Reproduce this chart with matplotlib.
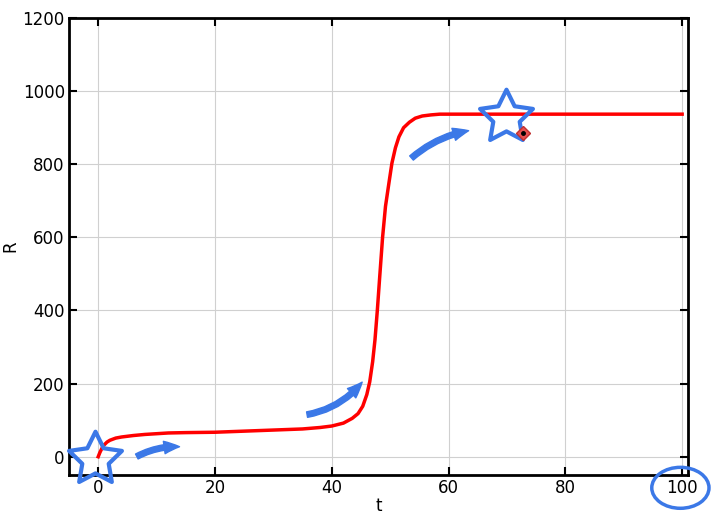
import numpy as np
import matplotlib.pyplot as plt
from matplotlib.patches import FancyArrowPatch, Ellipse
from matplotlib.path import Path

# values
t = [0, 0.3, 0.7, 1, 1.5, 2, 3, 4, 6, 8, 10, 12, 15, 20, 25, 30, 35, 38, 40, 42,
     43.5, 44.5, 45.3, 46, 46.5, 47, 47.4, 47.8, 48.2, 48.7, 49.2, 49.8, 50.3,
     50.9, 51.5, 52.3, 53.3, 54.3, 55.5, 57, 58.5, 60, 70, 80, 90, 100]
R = [0, 12, 25, 32, 40, 45, 51, 54, 58, 61, 63, 65, 66, 67, 70, 73, 76, 80, 84, 92,
     105, 118, 138, 170, 205, 260, 320, 400, 490, 600, 685, 750, 803,
     845, 875, 900, 915, 926, 932, 935, 937, 937, 937, 937, 937, 937]

# decorations
star_pts = [(-0.5, -5), (69.9, 928)]
arrows = [((6.2, -3), (14.4, 27), -0.15), ((35.3, 114), (45.5, 210), 0.2),
          ((53.3, 812), (63.9, 893), -0.15)]
marker_pt = (72.8, 885)
blue = '#3b78e7'

# star outline with slightly fatter arms than the default '*'
ang = np.pi / 2 + np.arange(10) * np.pi / 5
rad = np.where(np.arange(10) % 2 == 0, 1.0, 0.5)
star = Path(np.c_[rad * np.cos(ang), rad * np.sin(ang)].tolist() + [[0, 1]],
            [Path.MOVETO] + [Path.LINETO] * 9 + [Path.CLOSEPOLY])

fig = plt.figure(figsize=(7.21, 5.22), dpi=100)
ax = fig.add_axes([0.0957, 0.090, 0.8585, 0.8755])

ax.plot(t, R, color='red', lw=2.5, solid_joinstyle='round', zorder=3)
ax.set_xlim(-5, 101)
ax.set_ylim(-50, 1200)
ax.set_xticks([0, 20, 40, 60, 80, 100])
ax.set_yticks([0, 200, 400, 600, 800, 1000, 1200])
ax.grid(True, color='#d0d0d0', lw=0.8)
ax.tick_params(direction='in', length=6, width=1.5, top=True, right=True, labelsize=12, pad=3)
for s in ax.spines.values():
    s.set_linewidth(2)
ax.set_xlabel('t', fontsize=12, labelpad=0)
ax.set_ylabel('R', fontsize=12, labelpad=2)

for (x, y) in star_pts:
    ax.plot(x, y, marker=star, ms=40, mfc='none', mec=blue, mew=3, zorder=5, clip_on=False)
for (a, b, r) in arrows:
    ax.add_patch(FancyArrowPatch(a, b, connectionstyle='arc3,rad=%g' % r,
                                 arrowstyle='simple,head_width=9,head_length=11,tail_width=4',
                                 color=blue, zorder=5, clip_on=False))
ax.plot(*marker_pt, marker='D', ms=7, mfc='#e85050', mec='#c03030', zorder=6)
ax.plot(*marker_pt, marker='o', ms=2.5, color='black', zorder=7)
ax.add_patch(Ellipse((99.7, -85), 9.8, 112, fill=False, ec=blue, lw=2.5, clip_on=False, zorder=5))

plt.savefig('out.png', dpi=100)
